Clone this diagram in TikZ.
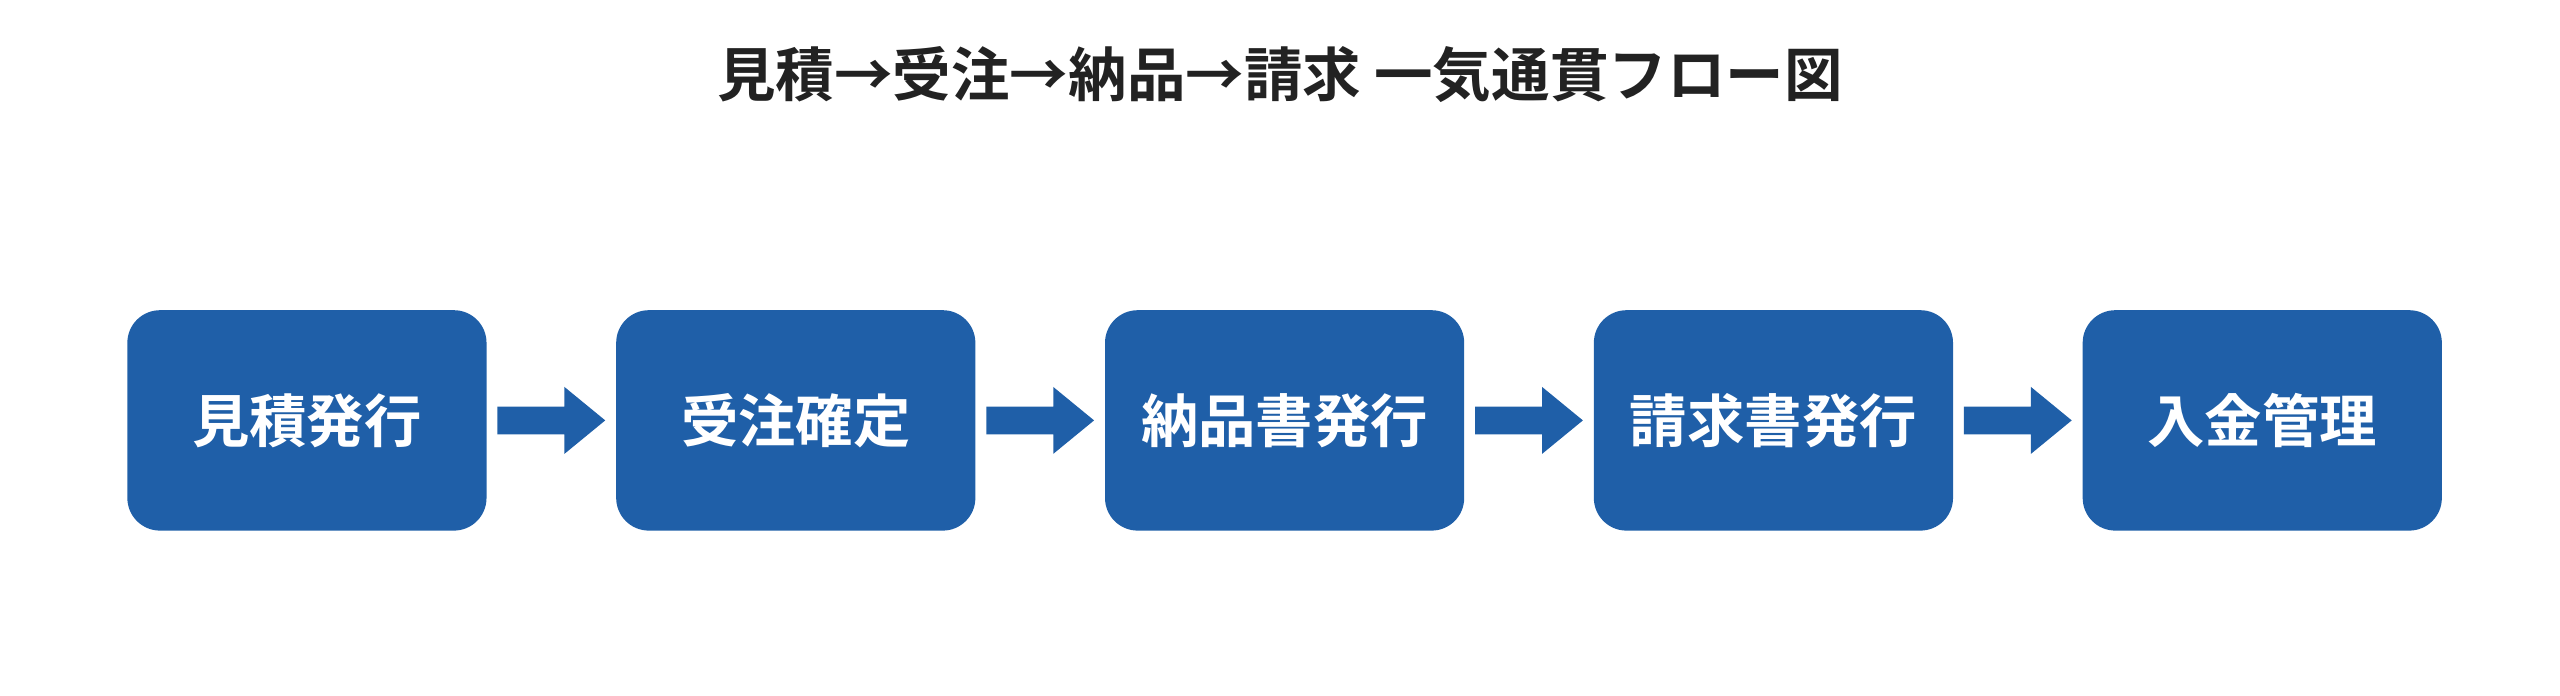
\documentclass[tikz,border=0pt]{standalone}
\usepackage{fontspec}
\newfontfamily\cjk{Noto Sans CJK JP}[BoldFont={Noto Sans CJK JP Bold}]
\usetikzlibrary{positioning,calc}
\definecolor{stepblue}{HTML}{1F5FA8}
\definecolor{titlegray}{HTML}{222222}
\tikzset{
  flowbox/.style={fill=stepblue,rounded corners=0.2cm,minimum width=2.2cm,minimum height=1.35cm,
    text=white,font=\cjk\bfseries\fontsize{10}{12}\selectfont,inner sep=0pt},
  flow/.style={fill=stepblue}
}
\begin{document}
\begin{tikzpicture}
	\useasboundingbox (0,0) rectangle (15.68,4.257);
	\node[font=\cjk\bfseries\fontsize{10.2}{12}\selectfont,text=titlegray] (title) at (7.84,3.80) {見積→受注→納品→請求 一気通貫フロー図};
	
	\node[flowbox] (mitsumori) at (1.88,1.682) {見積発行};
	\node[flowbox,right=0.78cm of mitsumori] (juchu) {受注確定};
	\node[flowbox,right=0.78cm of juchu] (nohin) {納品書発行};
	\node[flowbox,right=0.78cm of nohin] (seikyu) {請求書発行};
	\node[flowbox,right=0.78cm of seikyu] (nyukin) {入金管理};
	
	\foreach \a/\b in {mitsumori/juchu,juchu/nohin,nohin/seikyu,seikyu/nyukin}{
		\fill[flow] ($(\a.east)+(0.06,0.085)$) -- ++(0.41,0) -- ++(0,0.12) -- ($(\b.west)+(-0.06,0)$)
			-- ($(\a.east)+(0.47,-0.205)$) -- ++(0,0.12) -- ++(-0.41,0) -- cycle;
	}
\end{tikzpicture}
\end{document}
